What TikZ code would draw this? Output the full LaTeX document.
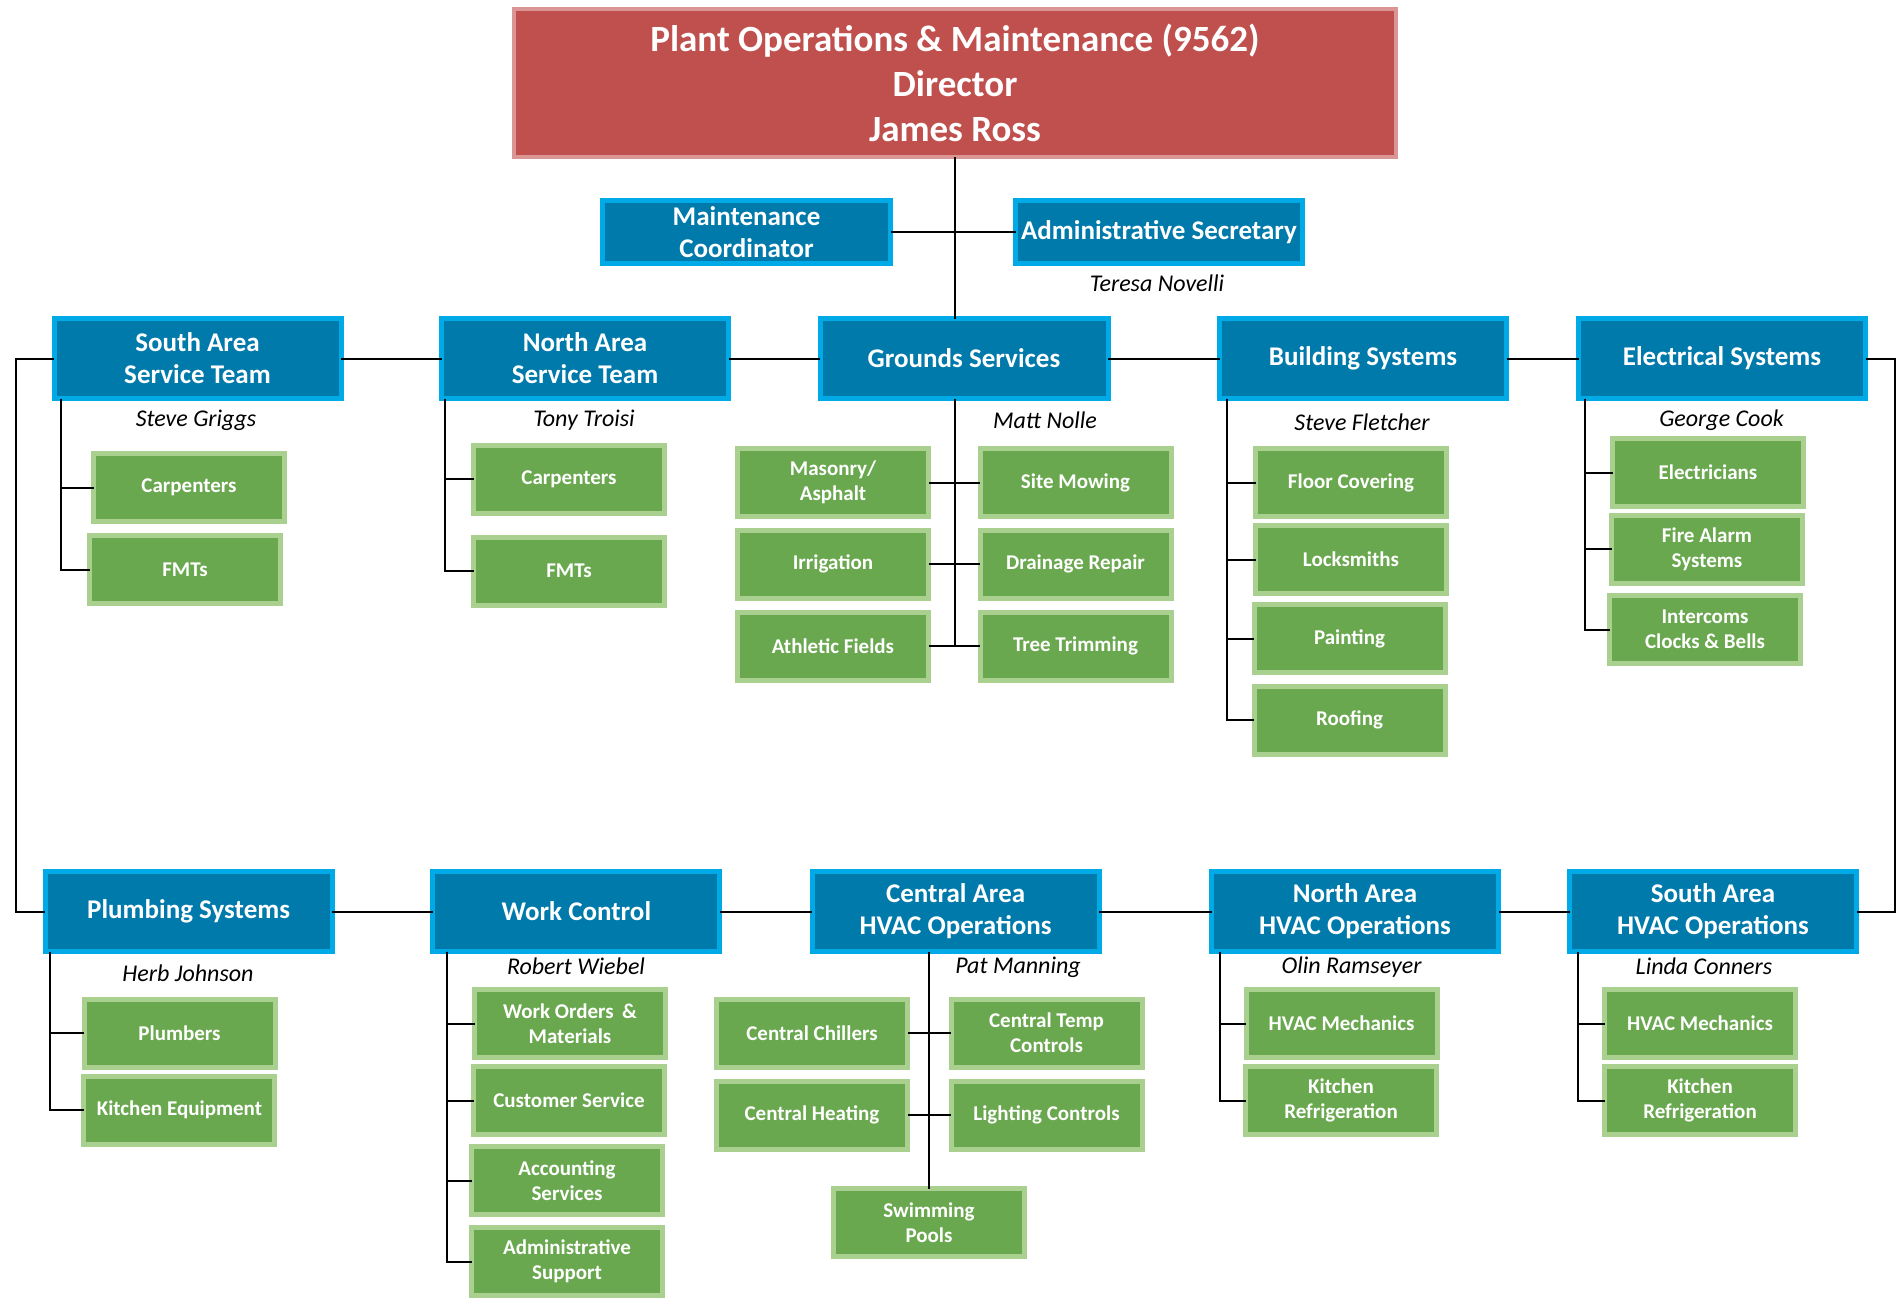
\documentclass[tikz,border=0pt]{standalone}
\usepackage{fontspec}
\setmainfont{Carlito}
\definecolor{blueF}{RGB}{0,122,171}
\definecolor{blueB}{RGB}{0,170,230}
\definecolor{greenF}{RGB}{106,168,79}
\definecolor{greenB}{RGB}{170,208,143}
\definecolor{redF}{RGB}{192,80,77}
\definecolor{redB}{RGB}{217,150,148}
\newcommand\bxfont{\fontsize{27}{32}\selectfont\bfseries}
\newcommand\gxfont{\fontsize{21}{25}\selectfont\bfseries}
\newcommand\nmfont{\fontsize{24}{28}\selectfont\itshape}
\newcommand\dirfont{\fontsize{37}{45}\selectfont\bfseries}
\tikzset{
  bluebox/.style={draw=blueB, fill=blueF, line width=5pt, text=white, font=\bxfont, align=center, inner sep=0pt, outer sep=0pt, minimum width=287, minimum height=80},
  greenbox/.style={draw=greenB, fill=greenF, line width=5pt, text=white, font=\gxfont, align=center, inner sep=0pt, outer sep=0pt, minimum width=191, minimum height=68},
  namelabel/.style={font=\nmfont, inner sep=0pt, text=black},
  conn/.style={draw=black, line width=2pt},
}
\begin{document}
\begin{tikzpicture}[x=1pt,y=-1pt]
\useasboundingbox[fill=white] (0,0) rectangle (1902,1299);
% director
\node[draw=redB, fill=redF, line width=4pt, text=white, font=\dirfont, align=center, inner sep=0pt, outer sep=0pt, minimum width=882, minimum height=148] (dir) at (955,83) {Plant Operations \& Maintenance (9562)\\Director\\James Ross};
\node[bluebox, minimum width=288, minimum height=63] (maint) at (746.5,232) {Maintenance\\Coordinator};
\node[bluebox, minimum width=287, minimum height=63] (admin) at (1159,232) {Administrative Secretary};
\node[namelabel] (teresa) at (1157,283) {Teresa Novelli};
% top row
\node[bluebox] (sast) at (197.5,358.5) {South Area\\Service Team};
\node[bluebox] (nast) at (585,358.5) {North Area\\Service Team};
\node[bluebox, minimum width=288] (grounds) at (964,358.5) {Grounds Services};
\node[bluebox] (build) at (1363,358.5) {Building Systems};
\node[bluebox] (elec) at (1722,358.5) {Electrical Systems};
\node[namelabel] (griggs) at (196,420) {Steve Griggs};
\node[namelabel] (troisi) at (584,420) {Tony Troisi};
\node[namelabel] (nolle) at (1045,420) {Matt Nolle};
\node[namelabel] (fletcher) at (1362,422) {Steve Fletcher};
\node[namelabel] (cook) at (1721.5,420) {George Cook};
% top children
\node[greenbox] (carpS) at (189,487.5) {Carpenters};
\node[greenbox] (fmtS) at (185,569.5) {FMTs};
\node[greenbox] (carpN) at (569,479) {Carpenters};
\node[greenbox] (fmtN) at (569,571) {FMTs};
\node[greenbox] (mason) at (833,482.5) {Masonry/\\Asphalt};
\node[greenbox] (mowing) at (1075.5,482.5) {Site Mowing};
\node[greenbox] (irrig) at (833,564) {Irrigation};
\node[greenbox] (drain) at (1075.5,564) {Drainage Repair};
\node[greenbox] (athletic) at (833,646) {Athletic Fields};
\node[greenbox] (tree) at (1075.5,646) {Tree Trimming};
\node[greenbox] (floor) at (1351,482.5) {Floor Covering};
\node[greenbox] (lock) at (1351,559.5) {Locksmiths};
\node[greenbox] (paint) at (1349.5,638.5) {Painting};
\node[greenbox] (roof) at (1349.5,720) {Roofing};
\node[greenbox] (electricians) at (1708,472.5) {Electricians};
\node[greenbox] (fire) at (1707,549) {Fire Alarm\\Systems};
\node[greenbox] (intercom) at (1705,629.5) {Intercoms\\Clocks \& Bells};
% bottom row
\node[bluebox] (plumb) at (188.6,911.5) {Plumbing Systems};
\node[bluebox] (wc) at (576.4,911.5) {Work Control};
\node[bluebox] (chvac) at (955.6,911.5) {Central Area\\HVAC Operations};
\node[bluebox] (nhvac) at (1355,911.5) {North Area\\HVAC Operations};
\node[bluebox] (shvac) at (1713,911.5) {South Area\\HVAC Operations};
\node[namelabel] (johnson) at (188,973) {Herb Johnson};
\node[namelabel] (wiebel) at (576,966) {Robert Wiebel};
\node[namelabel] (manning) at (1018,967) {Pat Manning};
\node[namelabel] (ramseyer) at (1351.6,967) {Olin Ramseyer};
\node[namelabel] (conners) at (1704,966) {Linda Conners};
% bottom children
\node[greenbox] (plumbers) at (179.5,1033) {Plumbers};
\node[greenbox] (kitchEq) at (179.4,1110) {Kitchen Equipment};
\node[greenbox] (workord) at (570,1023.5) {Work Orders \,\&\\Materials};
\node[greenbox] (custserv) at (569,1100.5) {Customer Service};
\node[greenbox] (account) at (567,1180.5) {Accounting\\Services};
\node[greenbox] (adminsup) at (567,1261.5) {Administrative\\Support};
\node[greenbox] (chillers) at (812,1033) {Central Chillers};
\node[greenbox] (temp) at (1046.5,1033) {Central Temp\\Controls};
\node[greenbox] (heating) at (812,1115) {Central Heating};
\node[greenbox] (lighting) at (1046.5,1115) {Lighting Controls};
\node[greenbox] (pools) at (929,1222.5) {Swimming\\Pools};
\node[greenbox] (hvacN) at (1341.6,1023.5) {HVAC Mechanics};
\node[greenbox] (kitchN) at (1341,1100.5) {Kitchen\\Refrigeration};
\node[greenbox] (hvacS) at (1700,1023.5) {HVAC Mechanics};
\node[greenbox] (kitchS) at (1700,1100.5) {Kitchen\\Refrigeration};
% free coordinates for the outer loop
\coordinate (lx) at (15.5,0);
\coordinate (rx) at (1894.7,0);
% connectors
\draw[conn] (dir.south) -- (dir.south |- grounds.north);
\draw[conn] (maint.east) -- (admin.west);
\draw[conn] (sast.east) -- (nast.west);
\draw[conn] (nast.east) -- (grounds.west);
\draw[conn] (grounds.east) -- (build.west);
\draw[conn] (build.east) -- (elec.west);
\draw[conn] (sast.west) -- (sast.west -| lx) |- (plumb.west);
\draw[conn] (elec.east) -- (elec.east -| rx) |- (shvac.east);
\draw[conn] (plumb.east) -- (wc.west);
\draw[conn] (wc.east) -- (chvac.west);
\draw[conn] (chvac.east) -- (nhvac.west);
\draw[conn] (nhvac.east) -- (shvac.west);
% south area team
\draw[conn] ([xshift=6.5]sast.south west) |- (carpS.west);
\draw[conn] ([xshift=6.5]sast.south west) |- (fmtS.west);
% north area team
\draw[conn] ([xshift=3.5]nast.south west) |- (carpN.west);
\draw[conn] ([xshift=3.5]nast.south west) |- (fmtN.west);
% grounds
\draw[conn] (dir.south |- grounds.south) -- (dir.south |- athletic.east);
\draw[conn] (mason.east) -- (mowing.west);
\draw[conn] (irrig.east) -- (drain.west);
\draw[conn] (athletic.east) -- (tree.west);
% building
\draw[conn] ([xshift=7]build.south west) |- (floor.west);
\draw[conn] ([xshift=7]build.south west) |- (lock.west);
\draw[conn] ([xshift=7]build.south west) |- (paint.west);
\draw[conn] ([xshift=7]build.south west) |- (roof.west);
% electrical
\draw[conn] ([xshift=6.5]elec.south west) |- (electricians.west);
\draw[conn] ([xshift=6.5]elec.south west) |- (fire.west);
\draw[conn] ([xshift=6.5]elec.south west) |- (intercom.west);
% plumbing
\draw[conn] ([xshift=5]plumb.south west) |- (plumbers.west);
\draw[conn] ([xshift=5]plumb.south west) |- (kitchEq.west);
% work control
\draw[conn] ([xshift=14]wc.south west) |- (workord.west);
\draw[conn] ([xshift=14]wc.south west) |- (custserv.west);
\draw[conn] ([xshift=14]wc.south west) |- (account.west);
\draw[conn] ([xshift=14]wc.south west) |- (adminsup.west);
% central hvac
\draw[conn] (pools.north |- chvac.south) -- (pools.north);
\draw[conn] (chillers.east) -- (temp.west);
\draw[conn] (heating.east) -- (lighting.west);
% north hvac
\draw[conn] ([xshift=8]nhvac.south west) |- (hvacN.west);
\draw[conn] ([xshift=8]nhvac.south west) |- (kitchN.west);
% south hvac
\draw[conn] ([xshift=8]shvac.south west) |- (hvacS.west);
\draw[conn] ([xshift=8]shvac.south west) |- (kitchS.west);
\end{tikzpicture}
\end{document}
